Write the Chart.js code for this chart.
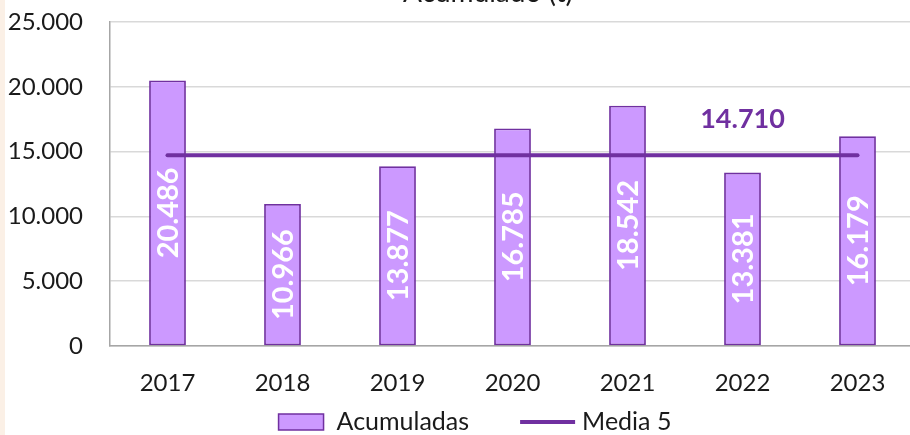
<!DOCTYPE html>
<html>
<head>
<meta charset="utf-8">
<script src="https://cdn.jsdelivr.net/npm/chart.js@4.4.1/dist/chart.umd.min.js"></script>
<style>
  html, body { margin: 0; padding: 0; background: #fff; overflow: hidden; }
  #strip { position: absolute; left: 0; top: 0; width: 5px; height: 435px; background: #fbf0e6; }
  #wrap { position: absolute; left: 0; top: 0; width: 915px; height: 435px; }
</style>
</head>
<body>
<div id="strip"></div>
<div id="wrap"><canvas id="acumChart"></canvas></div>
<script>
const years = ["2017", "2018", "2019", "2020", "2021", "2022", "2023"];
const acumuladas = [20486, 10966, 13877, 16785, 18542, 13381, 16179];
const media5 = [14710, 14710, 14710, 14710, 14710, 14710, 14710];
const mediaLabelIndex = 5;

const PURPLE = "#7030a0";
const LILAC = "#cc99ff";
const TEXT = "#1a1a1a";
const FONT = "Lato, 'Open Sans', sans-serif";

const fmt = (v) => String(Math.round(v)).replace(/\B(?=(\d{3})+(?!\d))/g, ".");

// title sits half outside the top edge
const titlePlugin = {
  id: "titleText",
  afterDraw(chart) {
    const ctx = chart.ctx;
    ctx.save();
    ctx.font = "28px " + FONT;
    ctx.fillStyle = TEXT;
    ctx.textAlign = "center";
    ctx.textBaseline = "alphabetic";
    ctx.fillText("Acumulado (t)", 488, 2);
    ctx.restore();
  }
};

// white rotated values inside the bars, plus the mean value above the line
const valueLabels = {
  id: "valueLabels",
  afterDatasetsDraw(chart) {
    const ctx = chart.ctx;
    const bars = chart.getDatasetMeta(0).data;
    ctx.save();
    ctx.font = "bold 29px " + FONT;
    ctx.fillStyle = "#ffffff";
    ctx.textAlign = "center";
    ctx.textBaseline = "middle";
    bars.forEach((bar, i) => {
      const cy = (bar.y + bar.base) / 2;
      ctx.save();
      ctx.translate(bar.x, cy);
      ctx.rotate(-Math.PI / 2);
      ctx.fillText(fmt(acumuladas[i]), 0, 1);
      ctx.restore();
    });
    const pt = chart.getDatasetMeta(1).data[mediaLabelIndex];
    ctx.font = "bold 27px " + FONT;
    ctx.fillStyle = PURPLE;
    ctx.fillText(fmt(media5[mediaLabelIndex]), pt.x, pt.y - 36);
    ctx.restore();
  }
};

// legend drawn by hand: wide gap between the two entries
const legendPlugin = {
  id: "wideLegend",
  afterDraw(chart) {
    const ctx = chart.ctx;
    const ds = chart.data.datasets;
    const cy = chart.height - 13;
    const centerX = 475;
    ctx.save();
    ctx.font = "25px " + FONT;
    const w0 = ctx.measureText(ds[0].label).width;
    const w1 = ctx.measureText(ds[1].label).width;
    const total = 45 + 13 + w0 + 51 + 55 + 7 + w1;
    let x = centerX - total / 2;

    ctx.fillStyle = ds[0].backgroundColor;
    ctx.strokeStyle = ds[0].borderColor;
    ctx.lineWidth = 1.5;
    ctx.fillRect(x, cy - 8, 45, 16);
    ctx.strokeRect(x, cy - 8, 45, 16);
    x += 45 + 13;
    ctx.fillStyle = TEXT;
    ctx.textBaseline = "middle";
    ctx.fillText(ds[0].label, x, cy);
    x += w0 + 51;

    ctx.strokeStyle = ds[1].borderColor;
    ctx.lineWidth = ds[1].borderWidth;
    ctx.beginPath();
    ctx.moveTo(x, cy);
    ctx.lineTo(x + 55, cy);
    ctx.stroke();
    x += 55 + 7;
    ctx.fillText(ds[1].label, x, cy);
    ctx.restore();
  }
};

function createAcumChart() {
  const data = {
    labels: years,
    datasets: [
      {
        type: "bar",
        label: "Acumuladas",
        data: acumuladas,
        backgroundColor: LILAC,
        borderColor: PURPLE,
        borderWidth: 1.8,
        borderSkipped: false,
        categoryPercentage: 0.4,
        barPercentage: 0.8,
        order: 1,
      },
      {
        type: "line",
        label: "Media 5",
        data: media5,
        borderColor: PURPLE,
        backgroundColor: PURPLE,
        borderWidth: 4,
        borderCapStyle: "round",
        pointRadius: 0,
        fill: false,
        order: 0,
      },
    ],
  };

  const config = {
    data: data,
    options: {
      responsive: true,
      maintainAspectRatio: false,
      animation: false,
      layout: { padding: { top: 22, right: 0, bottom: 37, left: 0 } },
      scales: {
        x: {
          afterFit: (scale) => { scale.height = 52; },
          grid: { display: false },
          border: { color: "#a6a6a6", width: 1.5 },
          ticks: { color: TEXT, font: { family: FONT, size: 24 }, padding: 15 },
        },
        y: {
          min: 0,
          max: 25000,
          afterFit: (scale) => {
            scale.width = 110;
            scale.paddingTop = 0;
            scale.paddingBottom = 0;
          },
          grid: { color: "#d9d9d9", lineWidth: 1.5, drawTicks: false },
          border: { color: "#a6a6a6", width: 1.5 },
          ticks: {
            stepSize: 5000,
            color: TEXT,
            font: { family: FONT, size: 24 },
            padding: 27,
            callback: (v) => fmt(v),
          },
        },
      },
      plugins: {
        legend: { display: false },
        tooltip: { enabled: false },
      },
    },
    plugins: [valueLabels, titlePlugin, legendPlugin],
  };

  const ctx = document.getElementById("acumChart");
  new Chart(ctx, config);
}

document.addEventListener("DOMContentLoaded", () => {
  createAcumChart();
});
</script>
</body>
</html>
